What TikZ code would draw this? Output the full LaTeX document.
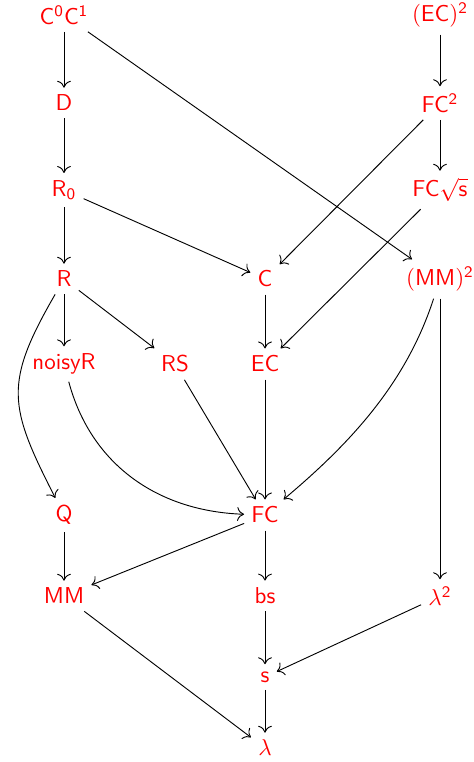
\documentclass[tikz,border=0pt]{standalone}
\usetikzlibrary{arrows.meta}
\begin{document}
\begin{tikzpicture}[x=0.435pt,y=-0.435pt,
  lbl/.style={text=red,font=\sffamily,inner sep=3pt,anchor=center},
  arr/.style={draw,line width=0.4pt,-{Computer Modern Rightarrow[length=3pt,width=6pt]}}]
\useasboundingbox (0,0) rectangle (473,762);
% column 1
\node[lbl] (c0c1) at (64,15) {$\mathsf{C^0C^1}$};
\node[lbl] (d) at (64,103) {D};
\node[lbl] (r0) at (64,190) {$\mathsf{R_0}$};
\node[lbl] (r) at (64,279) {R};
\node[lbl] (noisy) at (64,364) {noisyR};
\node[lbl] (q) at (64,515) {Q};
\node[lbl] (mm) at (64,596) {MM};
% middle columns
\node[lbl] (rs) at (175,364) {RS};
\node[lbl] (c) at (265,279) {C};
\node[lbl] (ec) at (265,364) {EC};
\node[lbl] (fc) at (265,515) {FC};
\node[lbl] (bs) at (265,596) {bs};
\node[lbl] (s) at (265,677) {s};
\node[lbl] (lam) at (265,748) {$\lambda$};
% right column
\node[lbl] (ec2) at (440,15) {$\mathsf{(EC)^2}$};
\node[lbl] (fc2) at (440,103) {$\mathsf{FC^2}$};
\node[lbl] (fcs) at (440,190) {$\mathsf{FC\sqrt{s}}$};
\node[lbl] (mm2) at (440,279) {$\mathsf{(MM)^2}$};
\node[lbl] (lam2) at (440,596) {$\lambda^{\mathsf{2}}$};
% arrows
\draw[arr] (c0c1) -- (d);
\draw[arr] (c0c1) -- (mm2);
\draw[arr] (d) -- (r0);
\draw[arr] (r0) -- (r);
\draw[arr] (r0) -- (c);
\draw[arr] (ec2) -- (fc2);
\draw[arr] (fc2) -- (fcs);
\draw[arr] (fc2) -- (c);
\draw[arr] (fcs) -- (ec);
\draw[arr] (r) -- (noisy);
\draw[arr] (r) -- (rs);
\draw[arr] (r) to[out=-120,in=117,looseness=1.3] (q);
\draw[arr] (c) -- (ec);
\draw[arr] (ec) -- (fc);
\draw[arr] (noisy) to[out=-75,in=178,looseness=1] (fc);
\draw[arr] (rs) -- (fc);
\draw[arr] (mm2) to[out=-108,in=40,looseness=0.9] (fc);
\draw[arr] (mm2) -- (lam2);
\draw[arr] (q) -- (mm);
\draw[arr] (fc) -- (mm);
\draw[arr] (fc) -- (bs);
\draw[arr] (bs) -- (s);
\draw[arr] (lam2) -- (s);
\draw[arr] (mm) -- (lam);
\draw[arr] (s) -- (lam);
\end{tikzpicture}
\end{document}
